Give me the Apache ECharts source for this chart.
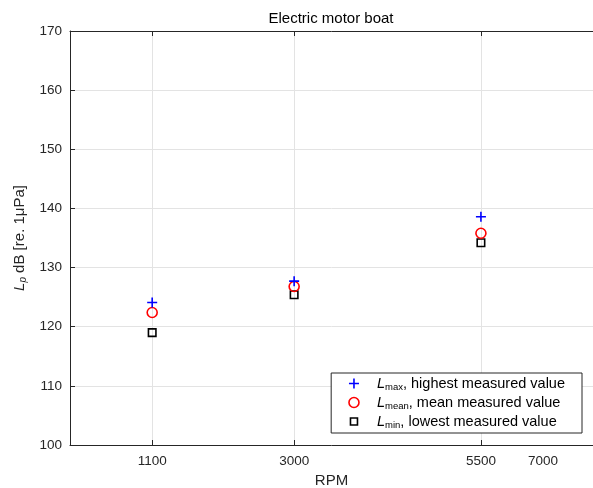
<!DOCTYPE html>
<html><head><meta charset="utf-8">
<script src="https://cdn.jsdelivr.net/npm/echarts@6/dist/echarts.min.js"></script>
<style>html,body{margin:0;padding:0;background:#fff}#c{width:593px;height:488px}</style>
</head><body><div id="c"></div>
<script>
const rpm = [1100, 3000, 5500];
const lMax = [124.1, 127.7, 138.6];
const lMean = [122.4, 126.8, 135.8];
const lMin = [119.0, 125.4, 134.2];
const xTickValues = [1100, 3000, 5500];
const xLabelValues = [1100, 3000, 5500, 6330];
const xLabelTexts = ['1100', '3000', '5500', '7000'];
const legendNames = ['Lmax', 'Lmean', 'Lmin'];
const legendSubs = ['max', 'mean', 'min'];
const legendTexts = ['highest measured value', 'mean measured value', 'lowest measured value'];

const FF = '"Liberation Sans", Arial, Helvetica, sans-serif';
const AX = '#262626';
const GRID = '#e3e3e3';

function pairs(ys) { return rpm.map((x, i) => [x, ys[i]]); }

const chart = echarts.init(document.getElementById('c'), null, {renderer: 'canvas'});
chart.setOption({
  animation: false,
  backgroundColor: '#fff',
  textStyle: {fontFamily: FF},
  title: {
    text: 'Electric motor boat', left: 331, top: 11, textAlign: 'center', padding: 0,
    textStyle: {fontFamily: FF, fontSize: 15, fontWeight: 'normal', color: '#000'}
  },
  grid: {left: 70, right: 0, top: 31, bottom: 43, containLabel: false, outerBoundsMode: 'none'},
  xAxis: [{
    type: 'value', position: 'bottom', min: 0, max: 7000,
    name: 'RPM', nameLocation: 'middle', nameGap: 27,
    nameTextStyle: {fontFamily: FF, fontSize: 15, color: AX},
    axisLine: {show: true, onZero: false, lineStyle: {color: AX, width: 1}},
    axisTick: {show: true, inside: true, length: 5, customValues: xTickValues, lineStyle: {color: AX}},
    axisLabel: {
      show: true, color: AX, fontFamily: FF, fontSize: 13.5, margin: 9,
      customValues: xLabelValues,
      formatter: v => { const i = xLabelValues.indexOf(v); return i >= 0 ? xLabelTexts[i] : ''; }
    },
    splitLine: {show: true, lineStyle: {color: GRID, width: 1}}
  }, {
    type: 'value', position: 'top', min: 0, max: 7000,
    axisLine: {show: true, onZero: false, lineStyle: {color: AX, width: 1}},
    axisTick: {show: true, inside: true, length: 5, customValues: xTickValues, lineStyle: {color: AX}},
    axisLabel: {show: false},
    splitLine: {show: false}
  }],
  yAxis: [{
    type: 'value', position: 'left', min: 100, max: 170, interval: 10,
    name: '{i|L}{s|p}{t| dB [re. 1μPa]}', nameLocation: 'middle', nameGap: 39,
    nameTextStyle: {
      color: AX, fontFamily: FF,
      rich: {
        i: {fontStyle: 'italic', fontSize: 15, lineHeight: 18, color: AX, fontFamily: FF},
        s: {fontStyle: 'italic', fontSize: 10, lineHeight: 10, verticalAlign: 'bottom', color: AX, fontFamily: FF},
        t: {fontSize: 15, lineHeight: 18, color: AX, fontFamily: FF}
      }
    },
    axisLine: {show: true, onZero: false, lineStyle: {color: AX, width: 1}},
    axisTick: {show: true, inside: true, length: 5, lineStyle: {color: AX}},
    axisLabel: {color: AX, fontFamily: FF, fontSize: 13.5, margin: 8},
    splitLine: {show: true, lineStyle: {color: GRID, width: 1}}
  }],
  legend: {
    orient: 'vertical', right: 11, bottom: 55,
    selectedMode: false,
    backgroundColor: '#fff', borderColor: AX, borderWidth: 1,
    padding: [3, 17, 3, 17], itemGap: 3, itemWidth: 10, itemHeight: 10,
    itemStyle: {borderWidth: 1.6, opacity: 1},
    data: [
      {name: 'Lmax', icon: 'path://M0,5L10,5M5,0L5,10'},
      {name: 'Lmean', icon: 'circle'},
      {name: 'Lmin', icon: 'path://M0,0M1.5,1.5L8.5,1.5L8.5,8.5L1.5,8.5Z M10,10'}
    ],
    formatter: name => {
      const i = legendNames.indexOf(name);
      return '{i|L}{s|' + legendSubs[i] + '}{t|, ' + legendTexts[i] + '}';
    },
    textStyle: {
      color: '#000', fontFamily: FF,
      rich: {
        i: {fontStyle: 'italic', fontSize: 14.5, lineHeight: 17, padding: [0, 0, 0, 13], color: '#000', fontFamily: FF},
        s: {fontSize: 9.5, lineHeight: 10, verticalAlign: 'bottom', color: '#000', fontFamily: FF},
        t: {fontSize: 14.5, lineHeight: 17, color: '#000', fontFamily: FF}
      }
    }
  },
  series: [{
    type: 'scatter', name: 'Lmax', xAxisIndex: 0, yAxisIndex: 0, data: pairs(lMax),
    symbol: 'path://M0,5L10,5M5,0L5,10', symbolSize: 10,
    itemStyle: {color: 'transparent', borderColor: '#0000ff', borderWidth: 1.6, opacity: 1}, z: 5
  }, {
    type: 'scatter', name: 'Lmean', xAxisIndex: 0, yAxisIndex: 0, data: pairs(lMean),
    symbol: 'circle', symbolSize: 10,
    itemStyle: {color: 'transparent', borderColor: '#ff0000', borderWidth: 1.6, opacity: 1}, z: 4
  }, {
    type: 'scatter', name: 'Lmin', xAxisIndex: 0, yAxisIndex: 0, data: pairs(lMin),
    symbol: 'rect', symbolSize: 7.5,
    itemStyle: {color: 'transparent', borderColor: '#000000', borderWidth: 1.6, opacity: 1}, z: 3
  }]
});
</script></body></html>
